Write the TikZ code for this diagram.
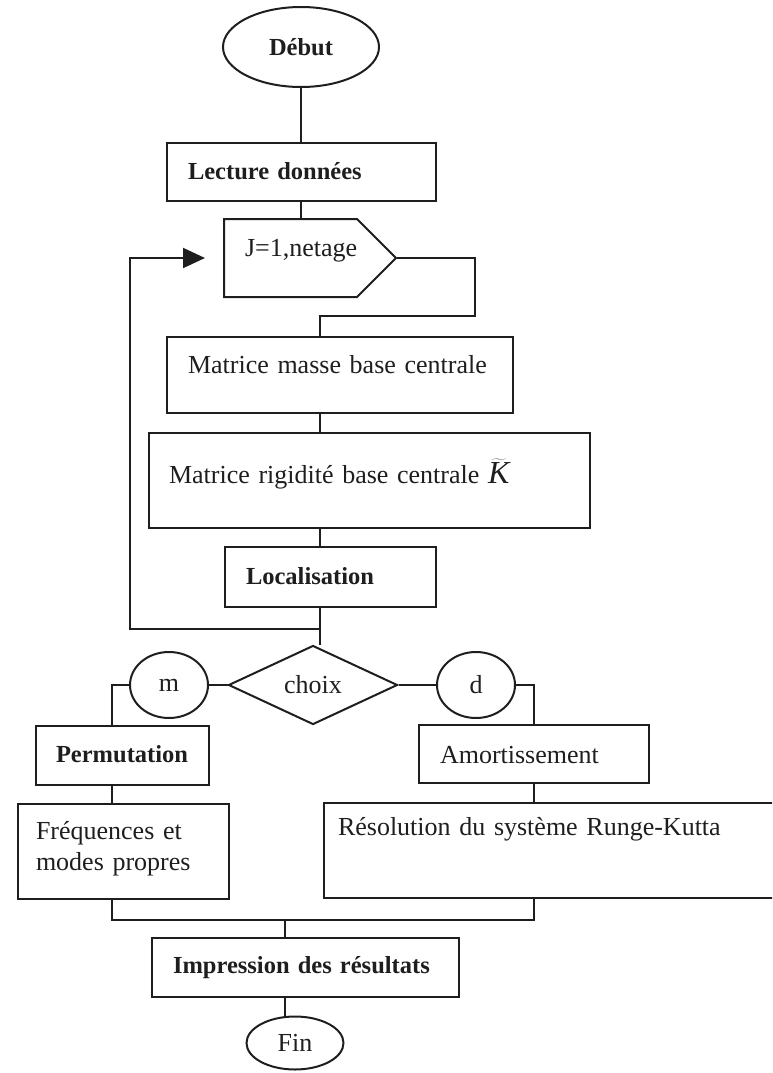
\documentclass[tikz,border=0pt]{standalone}
\usepackage{fontspec}
\setmainfont{Liberation Serif}
\usepackage{tikz}
\usetikzlibrary{
    shapes, shapes.symbols, shapes.geometric,
    arrows.meta, positioning, calc
}
\definecolor{inkGray}{HTML}{1E1E1E}
\newcommand{\regText}{\fontsize{26}{31}\selectfont\hyphenpenalty=10000}
\newcommand{\boldText}{\fontsize{24.5}{29}\selectfont\bfseries\hyphenpenalty=10000}
\tikzset{
    % Common
    flowPic/.style={x=1pt, y=-1pt},
    flowLine/.style={draw=inkGray, line width=2pt},
    arrowLoop/.style={flowLine, -{Triangle[length=22pt,width=20pt]}},
    % Flow chart nodes
    procBox/.style={
        rectangle, draw=inkGray, line width=2pt, text=inkGray,
        anchor=north west, inner xsep=21pt, inner ysep=0pt,
        align=left, font=\regText
    },
    procBold/.style={procBox, font=\boldText},
    termOval/.style={ellipse, draw=inkGray, line width=2pt, text=inkGray, inner sep=0pt},
    loopHead/.style={
        signal, signal to=east, signal pointer angle=90,
        draw=inkGray, line width=2pt, text=inkGray,
        anchor=west, inner xsep=21pt, inner ysep=0pt, align=left, font=\regText
    },
    choiceBox/.style={diamond, draw=inkGray, line width=2pt, text=inkGray, inner sep=0pt, font=\regText}
}

\begin{document}
\begin{tikzpicture}[flowPic]
    \useasboundingbox (0,0) rectangle (772,1073);
    \clip (0,0) rectangle (772,1073);

    % Main column
    \node[termOval, font=\boldText, minimum width=156pt, minimum height=80pt] (debut) at (301,47) {Début};
    \node[procBold, text width=227pt, text height=36pt, text depth=22pt] (lecture) at (166,142) {Lecture données};
    \node[loopHead, text width=91pt, text height=37pt, text depth=41pt] (loop) at (223,258) {J=1,netage};
    \node[procBox, text width=304pt, text height=36pt, text depth=40pt] (masse) at (166,336) {Matrice masse base centrale};
    \node[procBox, inner xsep=20pt, text width=401pt, text height=50pt, text depth=45pt] (rigid) at (148,432)
        {Matrice rigidité base centrale\ {\fontsize{32}{36}\selectfont$\widetilde{\mathit{K}}$}};
    \node[procBold, text width=169pt, text height=37pt, text depth=23pt] (loc) at (224,546) {Localisation};

    % Choice
    \node[choiceBox, minimum width=169pt, minimum height=79pt] (choix) at (313,685) {choix};
    \node[termOval, font=\regText, minimum width=78pt, minimum height=66pt] (mNode) at (169,685) {m};
    \node[termOval, font=\regText, minimum width=78pt, minimum height=66pt] (dNode) at (476,685) {d};

    % Branches
    \node[procBold, inner xsep=20pt, text width=133pt, text height=36pt, text depth=23pt] (perm) at (35,725) {Permutation};
    \node[procBox, text width=188pt, text height=38pt, text depth=20pt] (amort) at (418,724) {Amortissement};
    \node[procBox, inner xsep=18pt, text width=175pt, text height=35pt, text depth=60pt] (freq) at (17,803)
        {Fréquences et\\modes propres};
    \node[procBox, inner xsep=14pt, text width=434pt, text height=32pt, text depth=63pt] (resol) at (323,802)
        {Résolution du système Runge-Kutta};

    % End
    \node[procBold, text width=265pt, text height=35pt, text depth=24pt] (impr) at (151,937) {Impression des résultats};
    \node[termOval, font=\regText, minimum width=97pt, minimum height=53pt] (fin) at (295,1043) {Fin};

    % Columns of the connectors
    \coordinate (spine) at (320,0);
    \coordinate (leftCol) at (112,0);
    \coordinate (rightCol) at (534,0);
    \coordinate (loopTurn) at ($(loc.south -| spine)+(0,21)$);
    \coordinate (loopIn) at ([xshift=-18pt]loop.west);
    \coordinate (mergeJoin) at ($(freq.south -| leftCol)+(173,20)$);

    \draw[flowLine] (debut.south) -- (lecture.north -| debut.south);
    \draw[flowLine] (lecture.south -| debut.south) -- (loop.north -| debut.south);
    \draw[flowLine] (loop.east) -- ++(78,0) |- ($(masse.north -| spine)+(0,-20)$) -- (masse.north -| spine);
    \draw[flowLine] (masse.south -| spine) -- (rigid.north -| spine);
    \draw[flowLine] (rigid.south -| spine) -- (loc.north -| spine);
    \draw[flowLine] (loc.south -| spine) -- (choix.north -| spine);
    \draw[arrowLoop] (loopTurn) -- ++(-190,0) |- (loopIn);

    \draw[flowLine] (choix.west) -- (mNode.east);
    \draw[flowLine] (choix.east) -- (dNode.west);
    \draw[flowLine] (mNode.west) -| (perm.north -| leftCol);
    \draw[flowLine] (dNode.east) -| (amort.north -| rightCol);
    \draw[flowLine] (perm.south -| leftCol) -- (freq.north -| leftCol);
    \draw[flowLine] (amort.south -| rightCol) -- (resol.north -| rightCol);
    \draw[flowLine] (freq.south -| leftCol) -- ++(0,20) -| (resol.south -| rightCol);
    \draw[flowLine] (mergeJoin) -- (impr.north -| mergeJoin);
    \draw[flowLine] (impr.south -| mergeJoin) -- (fin.north -| mergeJoin);
\end{tikzpicture}
\end{document}
